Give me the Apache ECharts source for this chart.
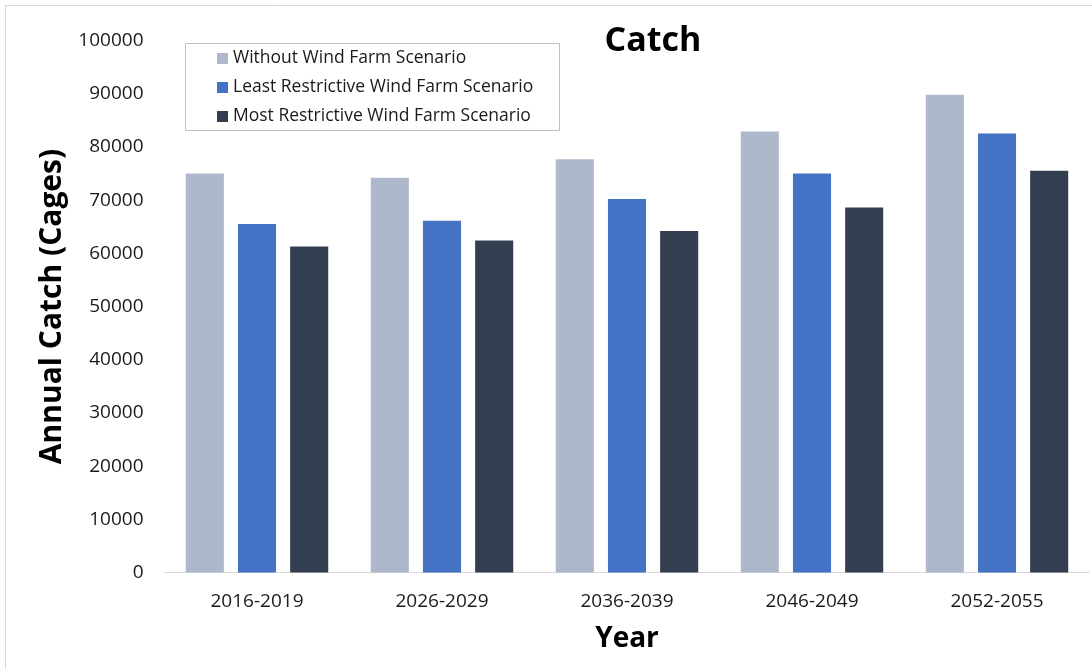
<!DOCTYPE html>
<html>
<head>
<meta charset="utf-8">
<style>
  html, body { margin: 0; padding: 0; background: #fff; }
  #chart { width: 1092px; height: 669px; }
</style>
<script src="https://cdn.jsdelivr.net/npm/echarts@6/dist/echarts.min.js"></script>
</head>
<body>
<div id="chart"></div>
<script>
// Annual catch per period under three wind farm scenarios
const categories = ['2016-2019', '2026-2029', '2036-2039', '2046-2049', '2052-2055'];
const seriesNames = [
  'Without Wind Farm Scenario',
  'Least Restrictive Wind Farm Scenario',
  'Most Restrictive Wind Farm Scenario'
];
const withoutWindFarm = [75000, 74200, 77700, 82900, 89800];
const leastRestrictive = [65500, 66100, 70200, 75000, 82500];
const mostRestrictive = [61300, 62400, 64200, 68600, 75500];
const colors = ['#ADB9CA', '#4472C4', '#333F50'];

const FONT = '"Open Sans", sans-serif';
const chart = echarts.init(document.getElementById('chart'), null, { renderer: 'canvas' });

const values = [withoutWindFarm, leastRestrictive, mostRestrictive];

chart.setOption({
  animation: false,
  backgroundColor: '#fff',
  textStyle: { fontFamily: FONT },
  title: {
    text: 'Catch',
    left: 648,
    top: 19,
    textAlign: 'center',
    textStyle: { fontFamily: FONT, fontSize: 34, fontWeight: 'bold', color: '#000' }
  },
  graphic: [
    {
      type: 'rect',
      shape: { x: 5.5, y: 5.5, width: 1100, height: 700 },
      style: { fill: 'none', stroke: '#D9D9D9', lineWidth: 1 },
      silent: true
    },
    {
      type: 'rect',
      shape: { x: 185.5, y: 43.5, width: 374, height: 87 },
      style: { fill: '#fff', stroke: '#BFBFBF', lineWidth: 1 },
      z: 5,
      silent: true
    }
  ],
  legend: {
    orient: 'vertical',
    left: 217,
    top: 48.5,
    padding: 0,
    itemWidth: 11,
    itemHeight: 11,
    itemGap: 9,
    icon: 'rect',
    z: 10,
    textStyle: { fontFamily: FONT, fontSize: 17.5, color: '#1a1a1a', lineHeight: 20, padding: [0, 0, 0, 0] },
    data: seriesNames
  },
  grid: { left: 164.5, right: 2.5, top: 40.5, bottom: 96.5, containLabel: false },
  xAxis: {
    type: 'category',
    data: categories,
    name: 'Year',
    nameLocation: 'middle',
    nameGap: 53,
    nameTextStyle: { fontFamily: FONT, fontSize: 28, fontWeight: 'bold', color: '#000' },
    axisLine: { lineStyle: { color: '#D9D9D9', width: 1 } },
    axisTick: { show: false },
    axisLabel: { fontFamily: FONT, fontSize: 19, color: '#1a1a1a', margin: 20 }
  },
  yAxis: {
    type: 'value',
    min: 0,
    max: 100000,
    interval: 10000,
    name: 'Annual Catch (Cages)',
    nameLocation: 'middle',
    nameRotate: 90,
    nameGap: 91,
    nameTextStyle: { fontFamily: FONT, fontSize: 30, fontWeight: 'bold', color: '#000' },
    axisLine: { show: false },
    axisTick: { show: false },
    splitLine: { show: false },
    axisLabel: {
      fontFamily: FONT, fontSize: 19, color: '#1a1a1a', margin: 21,
      formatter: (v) => String(v)
    }
  },
  series: seriesNames.map((name, i) => ({
    name,
    type: 'bar',
    data: values[i],
    barGap: '37%',
    barCategoryGap: '23%',
    itemStyle: { color: colors[i] }
  }))
});
</script>
</body>
</html>
